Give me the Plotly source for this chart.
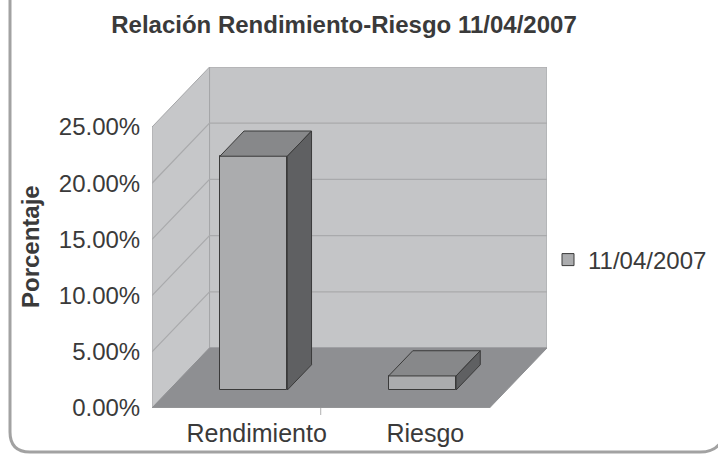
import plotly.graph_objects as go

# ---- data ----
categories = ["Rendimiento", "Riesgo"]
values = [0.208, 0.0125]
series_name = "11/04/2007"
title_text = "Relación Rendimiento-Riesgo 11/04/2007"
y_ticks = [0.0, 0.05, 0.10, 0.15, 0.20, 0.25]
y_title = "Porcentaje"

# ---- 3D geometry (oblique projection in data units) ----
W, H = 718, 457
L, R, T, B = 152, 171, 67, 49
DX = 0.341          # depth shift in x units
DY = 0.0534         # depth shift in y units
YMAX = 0.25
D1, D2 = 0.30, 0.72  # bar front / back depth fraction
HALF = 0.2           # bar half width
x_range = [-0.5, len(categories) - 0.5 + DX]
y_range = [0, YMAX + DY]

FONT = "Liberation Sans, Arial, sans-serif"
TXT = "#3a3a3a"

def P(x, y, d):
    return x + d * DX, y + d * DY

def path(pts):
    return "M " + " L ".join(f"{a},{b}" for a, b in pts) + " Z"

fig = go.Figure()
shapes = []

x0, x1 = -0.5, len(categories) - 0.5
# side wall
shapes.append(dict(type="path", xref="x", yref="y", layer="below",
                   path=path([P(x0, 0, 0), P(x0, YMAX, 0), P(x0, YMAX, 1), P(x0, 0, 1)]),
                   fillcolor="#c6c7c9", line=dict(color="#a5a6a8", width=1)))
# back wall
shapes.append(dict(type="path", xref="x", yref="y", layer="below",
                   path=path([P(x0, 0, 1), P(x0, YMAX, 1), P(x1, YMAX, 1), P(x1, 0, 1)]),
                   fillcolor="#c4c5c7", line=dict(color="#a5a6a8", width=1)))
# floor
shapes.append(dict(type="path", xref="x", yref="y", layer="below",
                   path=path([P(x0, 0, 0), P(x1, 0, 0), P(x1, 0, 1), P(x0, 0, 1)]),
                   fillcolor="#8e8f92", line=dict(color="#8e8f92", width=1)))
# gridlines
for v in y_ticks[1:-1]:
    a, b = P(x0, v, 0)
    c, d = P(x0, v, 1)
    e, f = P(x1, v, 1)
    shapes.append(dict(type="path", xref="x", yref="y", layer="below",
                       path=f"M {a},{b} L {c},{d} L {e},{f}",
                       line=dict(color="#a9aaac", width=1.2)))
# axis line along floor front & divider tick
shapes.append(dict(type="line", xref="x", yref="y", x0=x0, x1=x1, y0=0, y1=0,
                   line=dict(color="#9a9b9d", width=1)))
for i in range(1, len(categories)):
    shapes.append(dict(type="line", xref="x", yref="paper", x0=i - 0.5, x1=i - 0.5,
                       y0=0, y1=-7 / (H - T - B), line=dict(color="#b0b0b0", width=1)))

# ---- bars: front faces ----
fig.add_trace(go.Bar(
    x=[i + D1 * DX for i in range(len(categories))], y=values,
    base=[D1 * DY] * len(categories), width=2 * HALF,
    marker=dict(color="#abacae", line=dict(color="#3a3a3a", width=1)),
    name=series_name, showlegend=True, hoverinfo="skip"))

# top and side faces
for i, v in enumerate(values):
    top = [P(i - HALF, v, D1), P(i + HALF, v, D1), P(i + HALF, v, D2), P(i - HALF, v, D2)]
    side = [P(i + HALF, 0, D1), P(i + HALF, v, D1), P(i + HALF, v, D2), P(i + HALF, 0, D2)]
    for pts, col in ((top, "#87888a"), (side, "#5f6062")):
        xs = [p[0] for p in pts] + [pts[0][0]]
        ys = [p[1] for p in pts] + [pts[0][1]]
        fig.add_trace(go.Scatter(x=xs, y=ys, fill="toself", fillcolor=col, mode="lines",
                                 line=dict(color="#3a3a3a", width=1), showlegend=False,
                                 hoverinfo="skip"))

# ---- outer frame (pixel -> paper) ----
pw, ph = W - L - R, H - T - B
def px(x): return (x - L) / pw
def py(y): return (H - B - y) / ph
r = 20
frame = (f"M {px(10)},{py(-5)} L {px(10)},{py(452 - r)} "
         f"Q {px(10)},{py(452)} {px(10 + r)},{py(452)} "
         f"L {px(700)},{py(452)} Q {px(716)},{py(452)} {px(722)},{py(440)}")
shapes.append(dict(type="path", xref="paper", yref="paper", path=frame,
                   line=dict(color="#a2a2a2", width=3), layer="below"))

annotations = [
    dict(text=f"<b>{y_title}</b>", x=px(30), y=py(247), xref="paper", yref="paper",
         textangle=-90, showarrow=False, font=dict(family=FONT, size=24, color=TXT),
         xanchor="center", yanchor="middle"),
]

fig.update_layout(
    width=W, height=H,
    margin=dict(l=L, r=R, t=T, b=B, autoexpand=False),
    paper_bgcolor="white", plot_bgcolor="rgba(0,0,0,0)",
    title=dict(text=f"<b>{title_text}</b>", x=344 / W, xanchor="center",
               y=1 - 25 / H, yanchor="middle", xref="container",
               font=dict(family=FONT, size=24, color=TXT)),
    font=dict(family=FONT, size=24, color=TXT),
    xaxis=dict(range=x_range, showgrid=False, zeroline=False, showline=False,
               automargin=False,
               tickvals=[i + 0.12 for i in range(len(categories))], ticktext=categories,
               ticks="outside", ticklen=3, tickcolor="rgba(0,0,0,0)",
               tickfont=dict(size=25, color=TXT)),
    yaxis=dict(range=y_range, showgrid=False, zeroline=False, showline=False,
               automargin=False,
               tickvals=y_ticks, tickformat=".2%",
               ticks="outside", ticklen=6, tickcolor="rgba(0,0,0,0)",
               tickfont=dict(size=24, color=TXT)),
    legend=dict(x=px(548), xanchor="left", y=py(260), yanchor="middle",
                font=dict(size=24, color=TXT), bgcolor="rgba(0,0,0,0)",
                itemclick=False),
    shapes=shapes, annotations=annotations,
    bargap=0,
)

fig.write_html("out.html")
